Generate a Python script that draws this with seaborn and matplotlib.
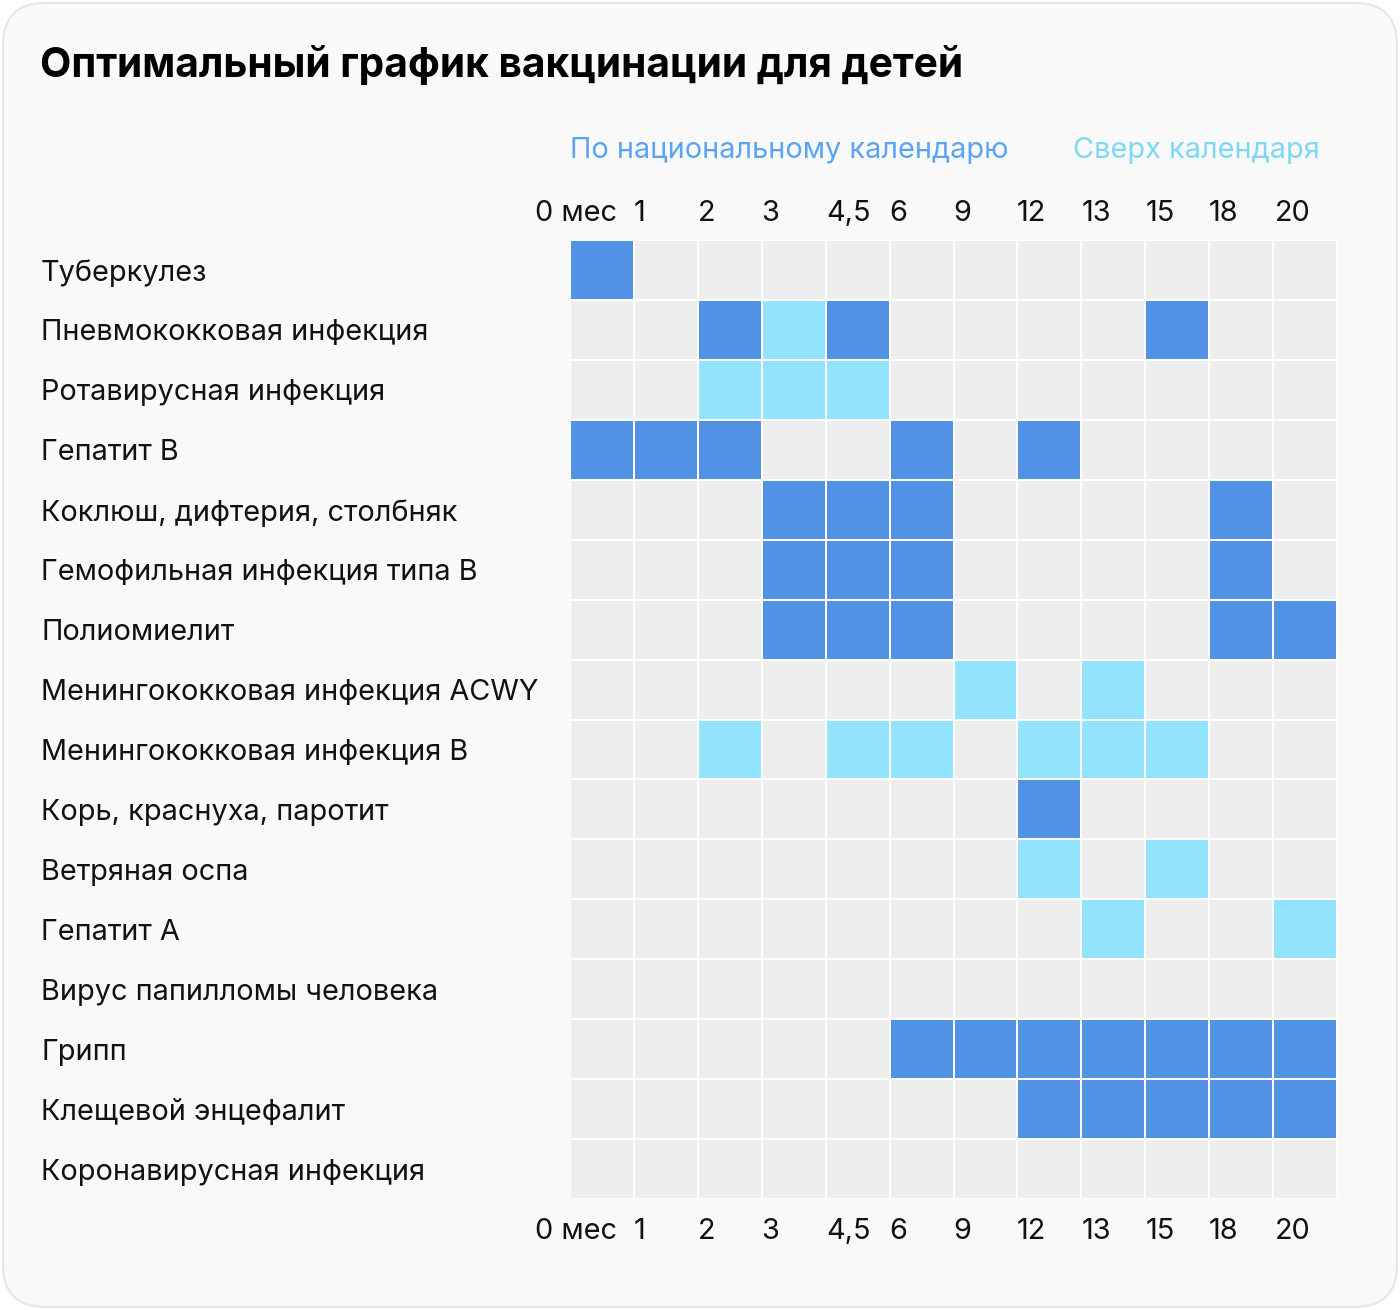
import numpy as np
import matplotlib
matplotlib.use("Agg")
import matplotlib.pyplot as plt
from matplotlib.colors import ListedColormap
from matplotlib.patches import FancyBboxPatch
import seaborn as sns

# Data: 0 = nothing, 1 = national calendar, 2 = extra
diseases = [
    "Туберкулез", "Пневмококковая инфекция", "Ротавирусная инфекция", "Гепатит B",
    "Коклюш, дифтерия, столбняк", "Гемофильная инфекция типа B", "Полиомиелит",
    "Менингококковая инфекция ACWY", "Менингококковая инфекция B",
    "Корь, краснуха, паротит", "Ветряная оспа", "Гепатит А",
    "Вирус папилломы человека", "Грипп", "Клещевой энцефалит",
    "Коронавирусная инфекция",
]
months = ["0 мес", "1", "2", "3", "4,5", "6", "9", "12", "13", "15", "18", "20"]
national = {
    "Туберкулез": [0],
    "Пневмококковая инфекция": [2, 4, 9],
    "Гепатит B": [0, 1, 2, 5, 7],
    "Коклюш, дифтерия, столбняк": [3, 4, 5, 10],
    "Гемофильная инфекция типа B": [3, 4, 5, 10],
    "Полиомиелит": [3, 4, 5, 10, 11],
    "Корь, краснуха, паротит": [7],
    "Грипп": [5, 6, 7, 8, 9, 10, 11],
    "Клещевой энцефалит": [7, 8, 9, 10, 11],
}
extra = {
    "Пневмококковая инфекция": [3],
    "Ротавирусная инфекция": [2, 3, 4],
    "Менингококковая инфекция ACWY": [6, 8],
    "Менингококковая инфекция B": [2, 4, 5, 7, 8, 9],
    "Ветряная оспа": [7, 9],
    "Гепатит А": [8, 11],
}
tick_pos = [0.09, 1.08, 2.13, 3.13, 4.35, 5.13, 6.13, 7.21, 8.23, 9.23, 10.23, 11.3]

grid = np.zeros((len(diseases), len(months)), dtype=int)
for i, d in enumerate(diseases):
    for j in national.get(d, []):
        grid[i, j] = 1
    for j in extra.get(d, []):
        grid[i, j] = 2

bg = "#F9F9F9"
sns.set_theme(style="white")
plt.rcParams["font.family"] = ["Inter", "DejaVu Sans"]

fig = plt.figure(figsize=(14, 13.1), dpi=100)
fig.patch.set_facecolor("white")
card = FancyBboxPatch((3 / 1400, 3 / 1310), 1394 / 1400, 1304 / 1310,
                      boxstyle="round,pad=0,rounding_size=0.03",
                      transform=fig.transFigure, facecolor=bg,
                      edgecolor="#E6E6E6", linewidth=1.5, zorder=-10,
                      mutation_aspect=1400 / 1310)
fig.patches.append(card)

W, H = 1400, 1310
ax = fig.add_axes([570 / W, 1 - 1199 / H, (1337 - 570) / W, (1199 - 240) / H])
cmap = ListedColormap(["#EEEEEE", "#5192E4", "#92E4FE"])
sns.heatmap(grid, ax=ax, cmap=cmap, vmin=-0.5, vmax=2.5, cbar=False,
            linewidths=1.2, linecolor="white", square=False)

fs = 20.8
ax.set_xticks(tick_pos)
ax.set_xticklabels(months, fontsize=fs, color="#111111")
ax.tick_params(axis="x", length=0, pad=14, labeltop=True, labelbottom=True,
               top=False, bottom=False, labelrotation=0)
# top labels sit a little closer to the grid
for t in ax.xaxis.get_major_ticks():
    t.label2.set_va("baseline")
ax.set_yticks(np.arange(len(diseases)) + 0.5)
ax.set_yticklabels(diseases, fontsize=fs, color="#111111", ha="left", va="center_baseline")
ax.tick_params(axis="y", length=0, pad=(570 - 41) * 0.72, labelrotation=0)
ax.set_xlabel("")
ax.set_ylabel("")

fig.text(40 / W, 1 - 65 / H, "Оптимальный график вакцинации для детей",
         fontsize=29.3, fontweight="bold", color="black", va="center", ha="left")
fig.text(570 / W, 1 - 150 / H, "По национальному календарю",
         fontsize=fs, color="#5BA4F5", va="center", ha="left")
fig.text(1073 / W, 1 - 150 / H, "Сверх календаря",
         fontsize=fs, color="#7DD8F5", va="center", ha="left")

fig.savefig("out.png", dpi=100, facecolor="white")
